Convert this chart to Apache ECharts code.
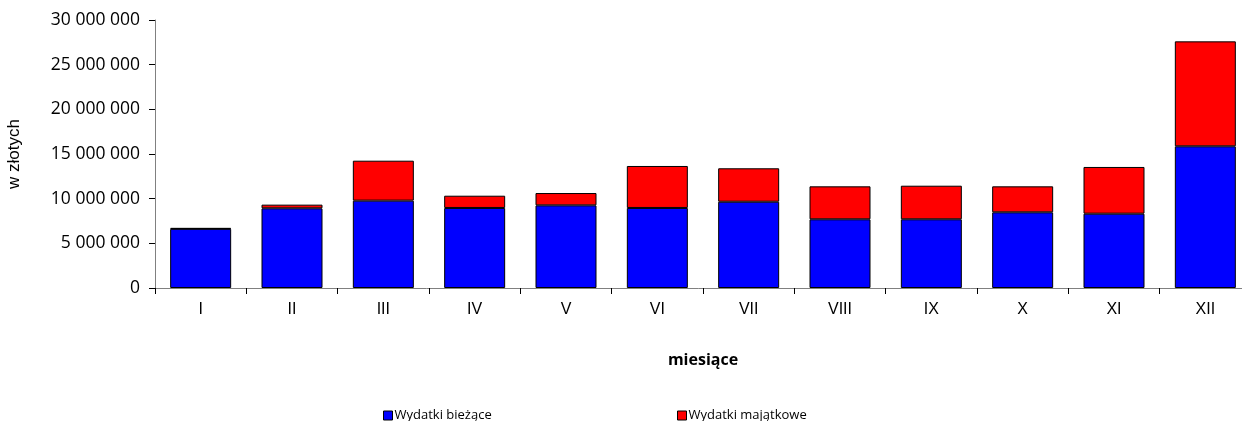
<!DOCTYPE html>
<html>
<head>
    <meta charset="utf-8">
    <title>Wydatki</title>
</head>
<script type="text/javascript" src="https://cdn.jsdelivr.net/npm/echarts@6/dist/echarts.min.js"></script>
<body style="margin:0">
<div id="main" style="width:1242px;height:421px;"></div>
<script type="text/javascript">
    // miesiace i wartosci (zl)
    var months = ['I', 'II', 'III', 'IV', 'V', 'VI', 'VII', 'VIII', 'IX', 'X', 'XI', 'XII'];
    var biezace = [6620000, 8920000, 9780000, 8960000, 9250000, 8960000, 9660000, 7690000, 7690000, 8470000, 8320000, 15860000];
    var majatkowe = [100000, 410000, 4470000, 1370000, 1380000, 4700000, 3740000, 3690000, 3760000, 2910000, 5230000, 11750000];

    var myChart = echarts.init(document.getElementById('main'));

    function fmt(v) {
        return String(v).replace(/\B(?=(\d{3})+(?!\d))/g, ' ');
    }

    var legendBase = {
        top: 404,
        icon: 'rect',
        itemWidth: 9,
        itemHeight: 9,
        itemGap: 4,
        itemStyle: {borderColor: '#000', borderWidth: 1},
        textStyle: {fontFamily: 'Open Sans', fontSize: 13, color: '#000', padding: [0, 0, 0, -3]}
    };

    myChart.setOption({
        animation: false,
        grid: {left: 155, top: 20, width: 1096, height: 268, outerBoundsMode: 'none', containLabel: false},
        legend: [
            Object.assign({left: 378, data: ['Wydatki bieżące']}, legendBase),
            Object.assign({left: 672, data: ['Wydatki majątkowe']}, legendBase)
        ],
        xAxis: {
            type: 'category',
            data: months,
            name: 'miesiące',
            nameLocation: 'middle',
            nameGap: 64,
            nameTextStyle: {fontFamily: 'Open Sans', fontWeight: 'bold', fontSize: 16, color: '#000'},
            axisLine: {lineStyle: {color: '#808080', width: 1}},
            axisTick: {show: true, length: 6, lineStyle: {color: '#000'}},
            axisLabel: {fontFamily: 'Liberation Sans', fontSize: 16, color: '#000', margin: 14}
        },
        yAxis: {
            type: 'value',
            min: 0,
            max: 30000000,
            interval: 5000000,
            name: 'w złotych',
            nameLocation: 'middle',
            nameGap: 132,
            nameRotate: 90,
            nameTextStyle: {fontFamily: 'Liberation Sans', fontSize: 17, color: '#000'},
            splitLine: {show: false},
            axisLine: {show: true, lineStyle: {color: '#808080'}},
            axisTick: {show: true, length: 6, lineStyle: {color: '#000'}},
            axisLabel: {
                fontFamily: 'Open Sans', fontSize: 17.5, color: '#000', margin: 15,
                formatter: fmt
            }
        },
        series: [
            {
                name: 'Wydatki bieżące',
                type: 'bar',
                stack: 'w',
                data: biezace,
                barWidth: 61,
                itemStyle: {color: '#0000FF', borderColor: '#000', borderWidth: 1}
            },
            {
                name: 'Wydatki majątkowe',
                type: 'bar',
                stack: 'w',
                data: majatkowe,
                barWidth: 61,
                itemStyle: {color: '#FF0000', borderColor: '#000', borderWidth: 1}
            }
        ]
    });
</script>
</body>
</html>
